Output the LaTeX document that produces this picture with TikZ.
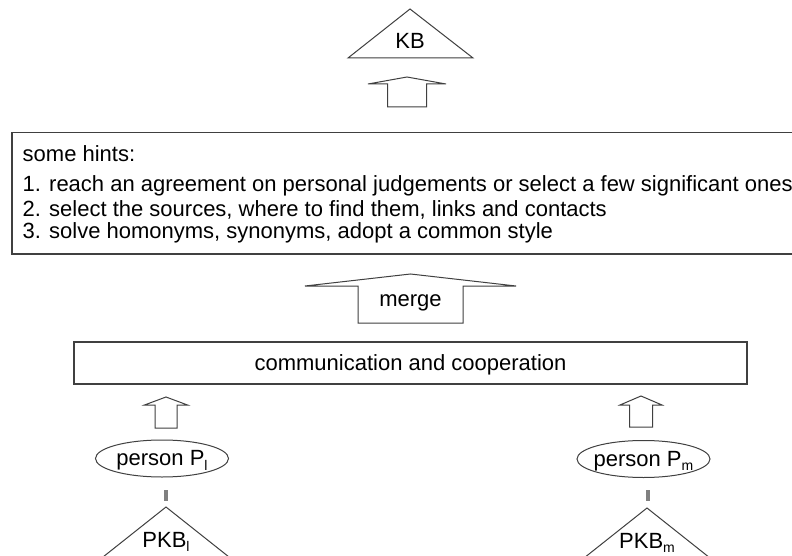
\documentclass[tikz,border=0pt]{standalone}
\usepackage{fontspec}
\setmainfont{Liberation Sans}
\usetikzlibrary{shapes.geometric}
\newcommand\sbs[1]{\raisebox{-4.5pt}{\fontsize{14}{14}\selectfont #1}}
\tikzset{
  outline/.style={draw=black!75, line width=1pt},
  lbl/.style={font=\fontsize{22}{22.7}\selectfont, inner sep=0pt, anchor=base},
  lblw/.style={lbl, anchor=base west},
}
\newcommand\hollowarrow[6]{% x, ybottom, ytip, halfshaft, halfhead, yhead
  \draw[outline, line join=miter] (#1-#4,#2) -- (#1-#4,#6) -- (#1-#5,#6) -- (#1,#3) -- (#1+#5,#6) -- (#1+#4,#6) -- (#1+#4,#2) -- cycle;}
\begin{document}
\begin{tikzpicture}[x=1pt, y=-1pt]
  \useasboundingbox (0,0) rectangle (792,556);
  \clip (0,0) rectangle (792,556);
  \fill[white] (0,0) rectangle (792,556);

  % KB triangle
  \draw[outline, line join=miter] (348,58) -- (410,9) -- (473,58) -- cycle;
  \node[lbl] (kb) at (410,49) {KB};
  \hollowarrow{407}{107}{77}{19.5}{39}{84}

  % hints box
  \draw[outline, line width=1.3pt] (12,132.5) rectangle (800,254);
  \node[lblw] (h0) at (22.5,162) {some hints:};
  \node[lblw] (h1) at (22.5,192) {1. reach an agreement on personal judgements or select a few significant ones};
  \node[lblw] (h2) at (22.5,216.3) {2. select the sources, where to find them, links and contacts};
  \node[lblw] (h3) at (22.5,238.7) {3. solve homonyms, synonyms, adopt a common style};

  % merge arrow
  \hollowarrow{410.5}{323}{274}{52.5}{105.5}{286}
  \node[lbl] (merge) at (410.5,306.5) {merge};

  % communication box
  \draw[outline, line width=1.2pt] (74,342) rectangle (747,384);
  \node[lbl] (comm) at (410.5,370) {communication and cooperation};

  % small arrows
  \hollowarrow{166}{428}{397}{11}{21.5}{405}
  \hollowarrow{641}{427}{396}{11.5}{21}{405}

  % persons
  \node[outline, ellipse, minimum width=133pt, minimum height=37pt, inner sep=0pt] (pl) at (162,458.5) {};
  \node[lbl] (plt) at (162,465.5) {person P\sbs{l}};
  \node[outline, ellipse, minimum width=133pt, minimum height=37pt, inner sep=0pt] (pm) at (643.5,459) {};
  \node[lbl] (pmt) at (643.5,466) {person P\sbs{m}};

  % gray bars
  \fill[black!50] (164,490) rectangle (168,501);
  \fill[black!50] (646,490) rectangle (650,501);

  % PKB triangles
  \draw[outline, line join=miter] (103,557) -- (166,507) -- (229,557) -- cycle;
  \node[lbl] (pkbl) at (166,547) {PKB\sbs{l}};
  \draw[outline, line join=miter] (584,558) -- (647,508) -- (710,558) -- cycle;
  \node[lbl] (pkbm) at (647,548) {PKB\sbs{m}};
\end{tikzpicture}
\end{document}
